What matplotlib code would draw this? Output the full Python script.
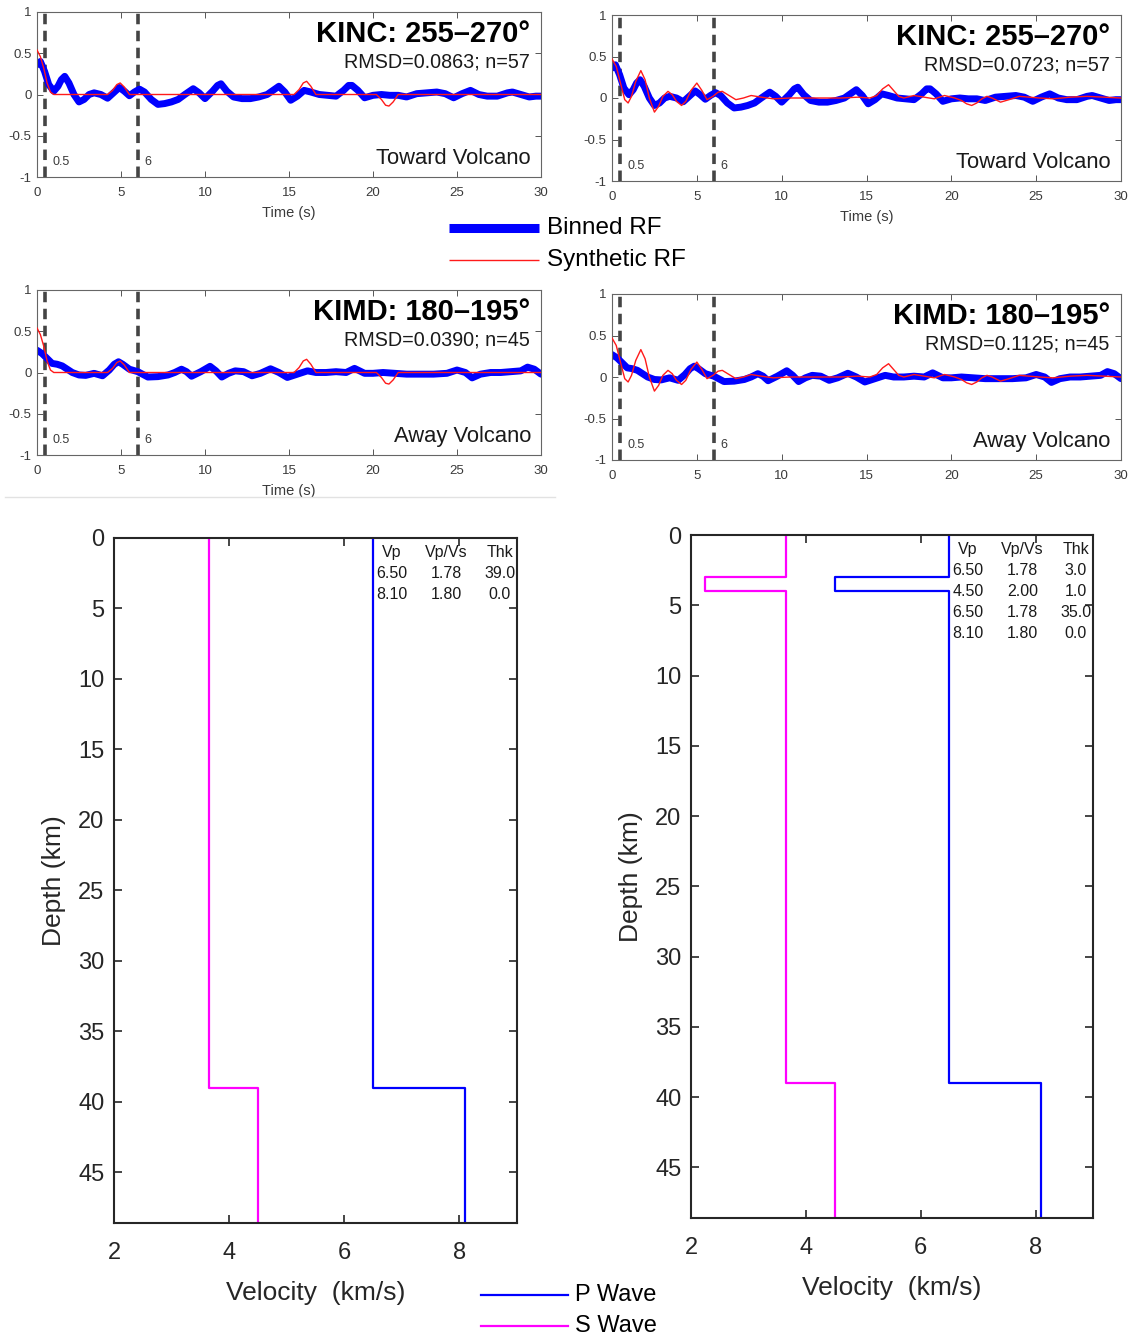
import numpy as np
import matplotlib
matplotlib.use("Agg")
import matplotlib.pyplot as plt
from matplotlib.lines import Line2D

plt.rcParams["font.family"] = ["Liberation Sans", "DejaVu Sans"]

W, H = 1137, 1341

# ---------------------------------------------------------------------------
# Funciones receptoras apiladas (binned) y sintéticas
# ---------------------------------------------------------------------------
t_kinc = [0, 0.2, 0.45, 0.7, 1.0, 1.25, 1.45, 1.65, 1.9, 2.2, 2.5, 2.8, 3.1,
          3.4, 3.8, 4.2, 4.55, 4.9, 5.2, 5.5, 5.8, 6.1, 6.4, 6.8, 7.2, 7.6,
          8.0, 8.4, 8.8, 9.3, 9.65, 10.0, 10.45, 10.75, 10.95, 11.3, 11.7,
          12.2, 12.7, 13.2, 13.7, 14.05, 14.4, 14.75, 15.1, 15.5, 15.9, 16.3,
          16.8, 17.3, 17.8, 18.25, 18.55, 18.75, 19.1, 19.5, 20.0, 20.5, 21.0,
          21.5, 22.0, 22.6, 23.2, 23.8, 24.3, 24.8, 25.3, 25.8, 26.3, 26.8,
          27.4, 28.0, 28.3, 28.8, 29.3, 29.7, 30.0]
rf_kinc = [0.36, 0.40, 0.28, 0.12, 0.04, 0.10, 0.18, 0.22, 0.14, 0.0, -0.09,
           -0.06, 0.0, 0.02, 0.0, -0.045, 0.02, 0.085, 0.04, -0.015, 0.03,
           0.065, 0.03, -0.06, -0.12, -0.11, -0.09, -0.06, 0.0, 0.07, 0.02,
           -0.05, 0.04, 0.11, 0.13, 0.04, -0.03, -0.05, -0.05, -0.03, 0.0,
           0.05, 0.10, 0.03, -0.07, -0.02, 0.05, 0.03, 0.0, -0.01, -0.02,
           0.05, 0.11, 0.11, 0.05, -0.04, -0.01, 0.0, -0.01, -0.01, -0.03,
           0.01, 0.02, 0.03, 0.01, -0.04, 0.01, 0.05, 0.0, -0.02, -0.02, 0.02,
           0.03, 0.0, -0.03, -0.02, -0.02]

t_kimd = [0, 0.3, 0.6, 0.9, 1.2, 1.5, 1.8, 2.1, 2.5, 2.9, 3.4, 3.9, 4.3, 4.6,
          4.85, 5.1, 5.5, 6.0, 6.6, 7.2, 7.8, 8.2, 8.6, 8.9, 9.2, 9.75, 10.3,
          10.65, 11.0, 11.4, 11.8, 12.3, 12.8, 13.3, 13.9, 14.4, 14.9, 15.5,
          16.1, 16.6, 17.2, 17.8, 18.4, 18.9, 19.5, 20.0, 20.6, 21.3, 22.0,
          22.8, 23.6, 24.4, 25.0, 25.5, 25.9, 26.4, 27.0, 27.6, 28.2, 28.8,
          29.2, 29.6, 30.0]
rf_kimd = [0.27, 0.23, 0.17, 0.11, 0.10, 0.08, 0.04, 0.0, -0.03, -0.035,
           -0.01, -0.04, 0.03, 0.10, 0.13, 0.10, 0.04, 0.01, -0.055, -0.05,
           -0.03, 0.0, 0.04, 0.01, -0.045, 0.01, 0.075, 0.02, -0.055, -0.01,
           0.02, 0.01, -0.04, -0.01, 0.045, 0.0, -0.06, -0.02, 0.02, 0.0, 0.0,
           0.01, 0.0, 0.05, -0.01, -0.01, 0.0, -0.01, -0.02, -0.02, -0.02,
           -0.01, 0.03, 0.0, -0.065, -0.02, 0.0, 0.0, 0.01, 0.02, 0.065, 0.04,
           -0.02]

# sintética para el modelo de una capa (39 km)
t_sint1 = [0, 0.2, 0.4, 0.6, 0.8, 1.0, 4.2, 4.5, 4.75, 4.95, 5.2, 5.5, 15.3,
           15.6, 15.85, 16.05, 16.3, 16.6, 20.2, 20.5, 20.75, 20.95, 21.2,
           21.5, 30.0]
rf_sint1 = [0.54, 0.46, 0.32, 0.14, 0.03, 0.0, 0.0, 0.05, 0.12, 0.14, 0.09,
            0.0, 0.0, 0.06, 0.14, 0.16, 0.10, 0.0, 0.0, -0.06, -0.13, -0.14,
            -0.09, 0.0, 0.0]

# sintética para el modelo con capa de baja velocidad
t_sint2 = [0, 0.25, 0.5, 0.75, 0.95, 1.15, 1.4, 1.7, 1.95, 2.2, 2.5, 2.75,
           3.0, 3.3, 3.55, 3.8, 4.1, 4.35, 4.65, 5.0, 5.3, 5.6, 5.95, 6.25,
           6.5, 6.9, 7.3, 7.75, 8.2, 8.8, 9.5, 10.5, 11.5, 12.5, 13.5, 14.5,
           15.2, 15.6, 15.95, 16.3, 16.6, 16.9, 17.2, 17.8, 18.4, 19.0, 19.6,
           20.2, 20.6, 20.9, 21.2, 21.5, 21.8, 22.1, 22.4, 22.9, 23.4, 24.0,
           24.6, 25.2, 26.0, 27.0, 28.0, 29.0, 30.0]
rf_sint2 = [0.47, 0.38, 0.18, -0.02, -0.06, 0.02, 0.20, 0.33, 0.22, 0.0,
            -0.17, -0.10, 0.02, 0.08, 0.04, -0.04, -0.09, -0.04, 0.09, 0.18,
            0.09, -0.02, 0.02, 0.07, 0.08, 0.03, -0.02, 0.0, 0.03, 0.01,
            -0.01, 0.0, 0.0, 0.0, 0.0, 0.01, 0.0, 0.03, 0.11, 0.16, 0.09,
            0.02, 0.0, 0.03, 0.01, -0.01, 0.03, 0.0, -0.03, -0.07, -0.09,
            -0.06, -0.01, 0.02, 0.0, -0.05, -0.02, 0.02, 0.01, 0.0, -0.01,
            0.01, 0.02, 0.01, 0.0]

# ---------------------------------------------------------------------------
# Modelos de velocidad (capas: Vp, Vp/Vs, espesor)
# ---------------------------------------------------------------------------
vp_1 = [6.50, 8.10]
vpvs_1 = [1.78, 1.80]
thk_1 = [39.0, 0.0]

vp_2 = [6.50, 4.50, 6.50, 8.10]
vpvs_2 = [1.78, 2.00, 1.78, 1.80]
thk_2 = [3.0, 1.0, 35.0, 0.0]

PROF_MAX = 48.6

paneles_rf = [
    # (caja en px [x0, y_arriba, x1, y_abajo], t, binned, t_sint, sint,
    #  titulo, rmsd, lado, con xlabel)
    ([37, 12, 541, 177], t_kinc, rf_kinc, t_sint1, rf_sint1,
     "KINC: 255\u2013270\u00b0", "RMSD=0.0863; n=57", "Toward Volcano", True),
    ([612, 15, 1121, 181], t_kinc, rf_kinc, t_sint2, rf_sint2,
     "KINC: 255\u2013270\u00b0", "RMSD=0.0723; n=57", "Toward Volcano", True),
    ([37, 290, 541, 455], t_kimd, rf_kimd, t_sint1, rf_sint1,
     "KIMD: 180\u2013195\u00b0", "RMSD=0.0390; n=45", "Away Volcano", True),
    ([612, 294, 1121, 460], t_kimd, rf_kimd, t_sint2, rf_sint2,
     "KIMD: 180\u2013195\u00b0", "RMSD=0.1125; n=45", "Away Volcano", False),
]

paneles_vel = [
    ([114, 538, 517, 1223], vp_1, vpvs_1, thk_1),
    ([691, 535, 1093, 1218], vp_2, vpvs_2, thk_2),
]


def px_a_fig(caja):
    x0, y0, x1, y1 = caja
    return [x0 / W, 1 - y1 / H, (x1 - x0) / W, (y1 - y0) / H]


def perfil_escalonado(vels, espesores):
    """Devuelve (v, z) de un perfil en escalera hasta PROF_MAX."""
    v, z = [], []
    techo = 0.0
    for k, (vel, h) in enumerate(zip(vels, espesores)):
        base = techo + h if k < len(vels) - 1 else PROF_MAX
        v += [vel, vel]
        z += [techo, base]
        techo = base
    return v, z


fig = plt.figure(figsize=(W / 100, H / 100), dpi=100)

gris_txt = "#3a3a3a"

for caja, t, rf, ts, sint, titulo, rmsd, lado, con_xlabel in paneles_rf:
    ax = fig.add_axes(px_a_fig(caja))
    for x_lin, etiqueta in [(0.5, "0.5"), (6, "6")]:
        ax.axvline(x_lin, color="#444444", lw=2.6, dashes=(2.9, 1.8),
                   zorder=1)
        ax.text(x_lin + 0.4, -0.82, etiqueta, fontsize=9, color=gris_txt,
                ha="left", va="center")
    ax.plot(t, rf, color="#0000ff", lw=5, solid_capstyle="round",
            solid_joinstyle="round", zorder=2)
    ax.plot(ts, sint, color="#ff1a1a", lw=1.0, solid_joinstyle="round",
            zorder=3)
    ax.set_xlim(0, 30)
    ax.set_ylim(-1, 1)
    ax.set_xticks([0, 5, 10, 15, 20, 25, 30])
    ax.set_yticks([-1, -0.5, 0, 0.5, 1])
    ax.set_yticklabels(["-1", "-0.5", "0", "0.5", "1"])
    ax.tick_params(direction="in", top=True, right=True, length=4,
                   width=0.7, labelsize=9.5, labelcolor=gris_txt,
                   color="#555555")
    ax.tick_params(axis="x", pad=7)
    ax.tick_params(axis="y", pad=4)
    for sp in ax.spines.values():
        sp.set_color("#666666")
        sp.set_linewidth(0.8)
    if con_xlabel:
        ax.set_xlabel("Time (s)", fontsize=10.5, color=gris_txt, labelpad=5)
    ax.text(0.978, 0.865, titulo, transform=ax.transAxes, ha="right",
            va="center", fontsize=21, fontweight="bold", color="black")
    ax.text(0.978, 0.697, rmsd, transform=ax.transAxes, ha="right",
            va="center", fontsize=14.2, color="#1a1a1a")
    ax.text(0.98, 0.112, lado, transform=ax.transAxes, ha="right",
            va="center", fontsize=15.8, color="#1a1a1a")

# línea fina gris bajo el panel KIMD izquierdo
fig.add_artist(Line2D([5 / W, 555 / W], [1 - 497 / H] * 2,
                      transform=fig.transFigure, color="#e2e2e2", lw=1.0))

# leyenda de las funciones receptoras
for y_px, color, lw, texto in [(228, "#0000ff", 6.5, "Binned RF"),
                               (260, "#ff1a1a", 1.0, "Synthetic RF")]:
    fig.add_artist(Line2D([449 / W, 539 / W], [1 - y_px / H] * 2,
                          transform=fig.transFigure, color=color, lw=lw,
                          solid_capstyle="butt"))
    fig.text(547 / W, 1 - y_px / H, texto, fontsize=17.5, va="center",
             ha="left", color="black")

for caja, vp, vpvs, thk in paneles_vel:
    ax = fig.add_axes(px_a_fig(caja))
    vs = [a / b for a, b in zip(vp, vpvs)]
    vp_x, z_p = perfil_escalonado(vp, thk)
    vs_x, z_s = perfil_escalonado(vs, thk)
    ax.plot(vp_x, z_p, color="#0000ff", lw=1.6)
    ax.plot(vs_x, z_s, color="#ff00ff", lw=1.6)
    ax.set_xlim(2, 9)
    ax.set_ylim(PROF_MAX, 0)
    ax.set_xticks([2, 4, 6, 8])
    ax.set_yticks(np.arange(0, 50, 5))
    ax.tick_params(direction="in", top=True, right=True, length=6,
                   width=1.2, labelsize=17, labelcolor="#262626",
                   color="#262626")
    ax.tick_params(axis="x", pad=14)
    ax.tick_params(axis="y", pad=7)
    for sp in ax.spines.values():
        sp.set_color("#262626")
        sp.set_linewidth(1.5)
    ax.set_xlabel("Velocity  (km/s)", fontsize=19, color="#262626",
                  labelpad=12)
    ax.set_ylabel("Depth (km)", fontsize=19, color="#262626", labelpad=9)

    # tabla de parámetros del modelo
    columnas = [6.82, 7.77, 8.70]
    filas_y = [1.0 + 1.5 * k for k in range(len(vp) + 1)]
    for x_c, cab in zip(columnas, ["Vp", "Vp/Vs", "Thk"]):
        ax.text(x_c, filas_y[0], cab, ha="center", va="center",
                fontsize=11.5, color="#1a1a1a")
    for k in range(len(vp)):
        y = filas_y[k + 1]
        for x_c, val in zip(columnas, [f"{vp[k]:.2f}", f"{vpvs[k]:.2f}",
                                        f"{thk[k]:.1f}"]):
            ax.text(x_c, y, val, ha="center", va="center", fontsize=11.5,
                    color="#1a1a1a")

# leyenda de los modelos de velocidad
for y_px, color, texto in [(1295, "#0000ff", "P Wave"),
                           (1326, "#ff00ff", "S Wave")]:
    fig.add_artist(Line2D([481 / W, 568 / W], [1 - y_px / H] * 2,
                          transform=fig.transFigure, color=color, lw=1.6))
    fig.text(575 / W, 1 - y_px / H, texto, fontsize=17, va="center",
             ha="left", color="black")

fig.savefig("out.png", dpi=100)
